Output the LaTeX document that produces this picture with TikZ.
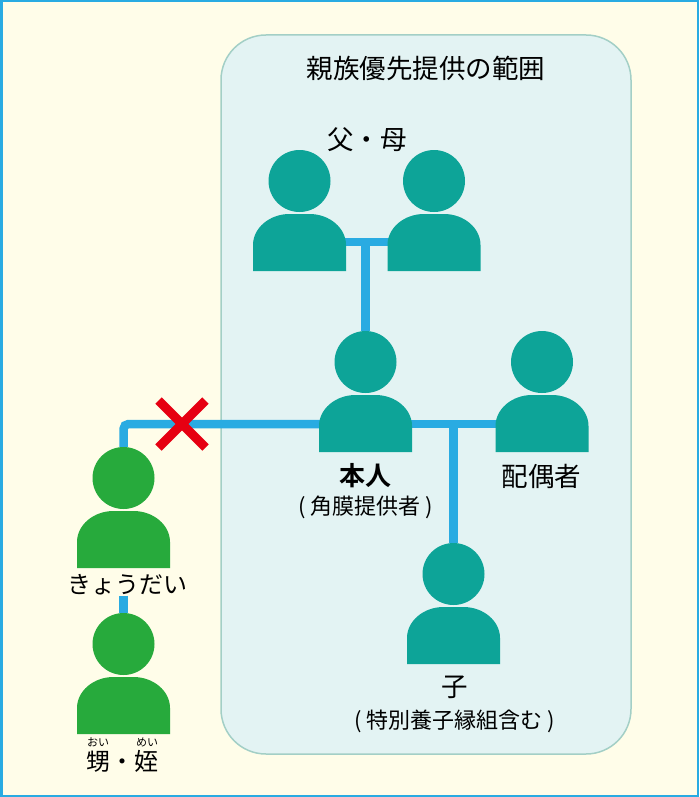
\documentclass[tikz,border=0pt]{standalone}
\usepackage{fontspec}
\setmainfont{Noto Sans CJK JP}
\newfontfamily\boldjp{Noto Sans CJK JP Bold}
\usetikzlibrary{backgrounds}

\definecolor{pagecol}{HTML}{FFFDE9}
\definecolor{framecol}{HTML}{29ABE2}
\definecolor{boxcol}{HTML}{E3F3F3}
\definecolor{boxline}{HTML}{A3CFC6}
\definecolor{tealcol}{HTML}{0DA498}
\definecolor{greencol}{HTML}{27AA3C}
\definecolor{crosscol}{HTML}{E60012}

\tikzset{
  head/.style={circle,inner sep=0pt,minimum size=62pt},
  link/.style={draw=framecol,line width=8.5pt},
  biglabel/.style={font=\fontsize{26.5}{30}\selectfont,inner sep=0pt},
  smalllabel/.style={font=\fontsize{22}{26}\selectfont,inner sep=0pt},
  rubylabel/.style={font=\fontsize{11}{13}\selectfont,inner sep=0pt}
}

% name, x, y of head, colour
\newcommand{\person}[4]{
  \node[head,fill=#4] (#1) at (#2,#3) {};
  \fill[#4,shift={(#2,#3)}] (-46.5,90) -- (-46.5,64)
      .. controls (-46.5,47) and (-30,33) .. (-10,33) -- (10,33)
      .. controls (30,33) and (46.5,47) .. (46.5,64) -- (46.5,90) -- cycle;
  \coordinate (#1 left) at (#2-40,#3+62);
  \coordinate (#1 right) at (#2+40,#3+62);
}

\begin{document}
\begin{tikzpicture}[x=1pt,y=-1pt]
  \useasboundingbox (0,0) rectangle (699,797);
  \begin{pgfonlayer}{background}
    \draw[framecol,line width=2.5pt,fill=pagecol] (1.25,1.25) rectangle (697.75,795.75);
    \draw[boxline,line width=1.5pt,fill=boxcol,rounded corners=45pt] (221,35) rectangle (631,754);
  \end{pgfonlayer}

  %people
  \foreach \n/\x/\y in {father/299.5/181,mother/434/181,self/365.5/362,spouse/542/362,child/453.5/574}
    \person{\n}{\x}{\y}{tealcol};
  \foreach \n/\x/\y in {sibling/123.5/478,nephew/123.5/644}
    \person{\n}{\x}{\y}{greencol};

  %labels
  \node[biglabel] (title) at (426,68) {親族優先提供の範囲};
  \node[biglabel] (parents) at (367,140) {父・母};
  \node[biglabel,font=\fontsize{26}{30}\boldjp] (selfname) at (365,476) {本人};
  \node[smalllabel] (selfnote) at (365.5,507) {( 角膜提供者 )};
  \node[biglabel] (spousename) at (541.5,476) {配偶者};
  \node[biglabel] (childname) at (455,687) {子};
  \node[smalllabel] (childnote) at (454.5,721) {( 特別養子縁組含む )};
  \node[biglabel,font=\fontsize{24}{28}\selectfont] (siblingname) at (127,585) {きょうだい};
  \node[biglabel,font=\fontsize{24}{28}\selectfont] (nephewname) at (122.5,761) {甥・姪};
  \node[rubylabel] (ruby one) at (98,742) {おい};
  \node[rubylabel] (ruby two) at (147,742) {めい};

  %connectors
  \coordinate (parents mid) at (365.5,242);
  \coordinate (self mid) at (453.5,424);
  \coordinate (corner) at (123.5,424);
  \coordinate (cross mid) at (182,424);
  \begin{pgfonlayer}{background}
    \draw[link] (father right |- parents mid) -- (mother left |- parents mid);
    \draw[link] (parents mid) -- (self);
    \draw[link,rounded corners=5pt] (sibling) -- (corner) -- (self left |- corner);
    \draw[link] (self right |- self mid) -- (spouse left |- self mid);
    \draw[link] (self mid) -- (child);
    \draw[link] (siblingname.south -| nephew) -- (nephew);
  \end{pgfonlayer}

  %not included
  \draw[crosscol,line width=9pt] (cross mid) +(-23.5,-23.5) -- +(23.5,23.5);
  \draw[crosscol,line width=9pt] (cross mid) +(-23.5,23.5) -- +(23.5,-23.5);
\end{tikzpicture}
\end{document}
